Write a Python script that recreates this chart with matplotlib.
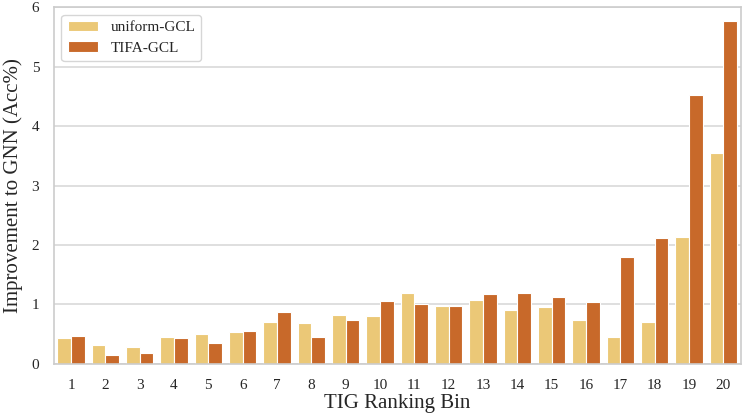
import matplotlib
matplotlib.use("Agg")
import matplotlib.pyplot as plt
import seaborn as sns
import numpy as np

bins = [str(i) for i in range(1, 21)]
uniform_gcl = [0.43, 0.32, 0.29, 0.45, 0.51, 0.53, 0.70, 0.69, 0.82, 0.80,
               1.20, 0.98, 1.07, 0.90, 0.95, 0.74, 0.46, 0.70, 2.13, 3.55]
tifa_gcl = [0.47, 0.15, 0.18, 0.44, 0.35, 0.56, 0.88, 0.46, 0.74, 1.05,
            1.00, 0.98, 1.18, 1.20, 1.13, 1.04, 1.79, 2.11, 4.52, 5.76]

sns.set_style("whitegrid")
plt.rcParams['font.family'] = ['Liberation Serif', 'DejaVu Serif']

fig, ax = plt.subplots(figsize=(7.48, 4.15), dpi=100)
x = np.arange(len(bins))
w = 0.4
ax.bar(x - w / 2, uniform_gcl, w, color="#EBC877", edgecolor="white",
       linewidth=0.8, label="uniform-GCL")
ax.bar(x + w / 2, tifa_gcl, w, color="#C8692A", edgecolor="white",
       linewidth=0.8, label="TIFA-GCL")

ax.set_xticks(x)
ax.set_xticklabels(bins, fontsize=11)
ax.tick_params(axis='y', labelsize=11, pad=7)
ax.tick_params(axis='x', pad=7)
ax.set_xlim(-0.5, len(bins) - 0.5)
ax.set_ylim(0, 6)
ax.xaxis.grid(False)
ax.yaxis.grid(True, color="#d9d9d9", linewidth=1.2)
for s in ax.spines.values():
    s.set_color("#cccccc")
    s.set_linewidth(1.2)

ax.set_xlabel("TIG Ranking Bin", fontsize=15, labelpad=2)
ax.set_ylabel("Improvement to GNN (Acc%)", fontsize=15, labelpad=6)
ax.legend(loc="upper left", fontsize=11, frameon=True, labelspacing=0.45)

plt.subplots_adjust(left=0.072, right=0.99, top=0.983, bottom=0.123)
plt.savefig("out.png", dpi=100)
